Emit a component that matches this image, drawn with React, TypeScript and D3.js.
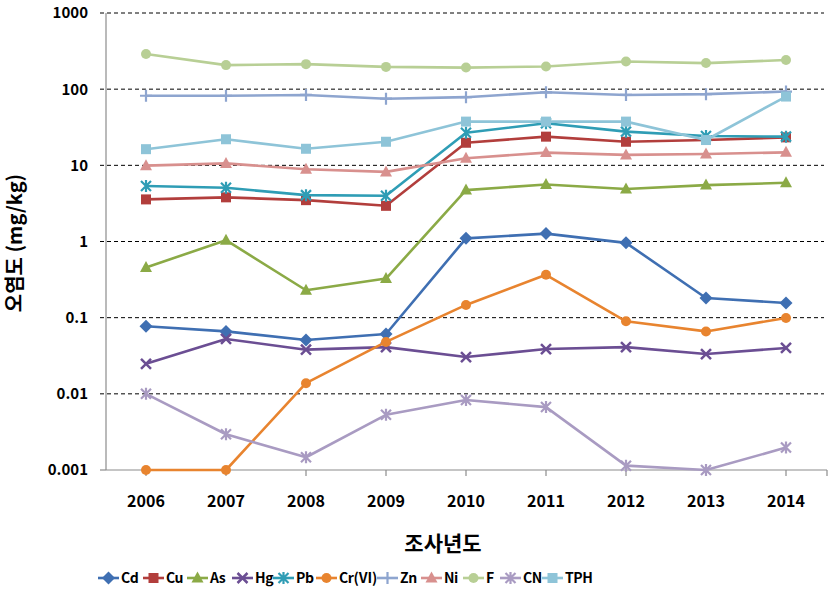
import React from "react";
import * as d3 from "d3";

const years = ["2006", "2007", "2008", "2009", "2010", "2011", "2012", "2013", "2014"];
const yTicks = [0.001, 0.01, 0.1, 1, 10, 100, 1000];
const yTickLabels = ["0.001", "0.01", "0.1", "1", "10", "100", "1000"];

const seriesNames = ["Cd", "Cu", "As", "Hg", "Pb", "Cr(Ⅵ)", "Zn", "Ni", "F", "CN", "TPH"];
const cd = [0.077, 0.066, 0.051, 0.061, 1.1, 1.27, 0.96, 0.181, 0.156];
const cu = [3.57, 3.8, 3.49, 2.94, 19.8, 23.8, 20.4, 21.5, 23.3];
const as = [0.455, 1.04, 0.229, 0.326, 4.73, 5.6, 4.88, 5.5, 5.9];
const hg = [0.0248, 0.0525, 0.038, 0.041, 0.0304, 0.0387, 0.041, 0.0333, 0.04];
const pb = [5.35, 5.07, 4.06, 3.98, 26.8, 35.7, 27.7, 24.3, 23.8];
const cr = [0.001, 0.001, 0.0138, 0.048, 0.147, 0.365, 0.0897, 0.066, 0.099];
const zn = [82, 82, 84, 75, 78.5, 91, 84, 86, 93];
const ni = [9.9, 10.6, 8.9, 8.2, 12.4, 14.7, 13.7, 14.1, 14.8];
const f = [290, 207, 213, 196, 192, 198, 231, 220, 241];
const cn = [0.01, 0.00295, 0.00147, 0.0053, 0.0083, 0.0067, 0.00114, 0.001, 0.00197];
const tph = [16.3, 22, 16.5, 20.4, 37.5, 37.5, 37.5, 21.5, 80];

const seriesValues = [cd, cu, as, hg, pb, cr, zn, ni, f, cn, tph];
const colors = ["#3F6FB2", "#B23E3C", "#8BAA46", "#6B4E93", "#2F9DB5", "#E8842F", "#8EA5CF", "#D8908E", "#B8CF95", "#A99BC2", "#8EC4D8"];
const markers = ["diamond", "square", "triangle", "x", "star", "circle", "plus", "triangle", "circle", "star", "square"];

const FONT = "'Noto Sans CJK KR', 'Noto Sans', sans-serif";

function Marker({ type, x, y, color }: { type: string; x: number; y: number; color: string }) {
  switch (type) {
    case "diamond":
      return <path d={`M${x},${y - 6.5}L${x + 6.5},${y}L${x},${y + 6.5}L${x - 6.5},${y}Z`} fill={color} />;
    case "square":
      return <rect x={x - 5} y={y - 5} width={10} height={10} fill={color} />;
    case "triangle":
      return <path d={`M${x},${y - 6.5}L${x + 6},${y + 4.5}L${x - 6},${y + 4.5}Z`} fill={color} />;
    case "circle":
      return <circle cx={x} cy={y} r={5} fill={color} />;
    case "x":
      return (
        <path d={`M${x - 5},${y - 5}L${x + 5},${y + 5}M${x - 5},${y + 5}L${x + 5},${y - 5}`} stroke={color} strokeWidth={2.5} fill="none" />
      );
    case "star":
      return (
        <path
          d={`M${x - 5},${y - 5}L${x + 5},${y + 5}M${x - 5},${y + 5}L${x + 5},${y - 5}M${x},${y - 6}L${x},${y + 6}`}
          stroke={color}
          strokeWidth={2.2}
          fill="none"
        />
      );
    case "plus":
      return (
        <path d={`M${x - 6},${y}L${x + 6},${y}M${x},${y - 6}L${x},${y + 6}`} stroke={color} strokeWidth={2.2} fill="none" />
      );
    default:
      return null;
  }
}

export default function App() {
  const width = 834;
  const height = 594;
  const left = 106;
  const right = 826;
  const top = 13;
  const bottom = 470;

  const x = d3.scaleBand<string>().domain(years).range([left, right]);
  const cx = (yr: string) => (x(yr) as number) + x.bandwidth() / 2;
  const y = d3.scaleLog().domain([0.001, 1000]).range([bottom, top]);

  const line = d3
    .line<number>()
    .x((_, i) => cx(years[i]))
    .y((v) => y(v));

  const legendX = [98, 143, 187, 232, 273, 316, 377, 421, 463, 500, 542];

  return (
    <svg width={width} height={height} style={{ position: "absolute", left: 0, top: 0, background: "#fff" }}>
      <rect x={0} y={0} width={width} height={height} fill="#fff" />
      {/* gridlines */}
      {yTicks.slice(1).map((t) => (
        <line key={t} x1={left - 6} x2={right - 2} y1={y(t)} y2={y(t)} stroke="#000" strokeWidth={1} strokeDasharray="4,3" />
      ))}
      {/* axes */}
      <line x1={left} x2={left} y1={top} y2={bottom} stroke="#8c8c8c" strokeWidth={1.2} />
      <line x1={left - 6} x2={left} y1={bottom} y2={bottom} stroke="#8c8c8c" strokeWidth={1.2} />
      <line x1={left} x2={right + 1} y1={bottom} y2={bottom} stroke="#8c8c8c" strokeWidth={1.2} />
      {years.map((yr) => (
        <line key={yr} x1={cx(yr)} x2={cx(yr)} y1={bottom} y2={bottom + 6} stroke="#8c8c8c" strokeWidth={1.2} />
      ))}
      <line x1={right + 1} x2={right + 1} y1={bottom} y2={bottom + 6} stroke="#8c8c8c" strokeWidth={1.2} />
      {/* y tick labels */}
      {yTicks.map((t, i) => (
        <text key={t} x={88} y={y(t)} dy="0.36em" textAnchor="end" fontFamily={FONT} fontWeight="bold" fontSize={15} fill="#000">
          {yTickLabels[i]}
        </text>
      ))}
      {/* x tick labels */}
      {years.map((yr) => (
        <text key={yr} x={cx(yr)} y={507} textAnchor="middle" fontFamily={FONT} fontWeight="bold" fontSize={16} fill="#000">
          {yr}
        </text>
      ))}
      {/* axis titles */}
      <text x={443} y={551} textAnchor="middle" fontFamily={FONT} fontWeight="bold" fontSize={21} fill="#000">
        조사년도
      </text>
      <text
        transform={`translate(22,243) rotate(-90)`}
        textAnchor="middle"
        fontFamily={FONT}
        fontWeight="bold"
        fontSize={20}
        fill="#000"
      >
        오염도 (mg/kg)
      </text>
      {/* series */}
      {seriesValues.map((vals, si) => (
        <g key={seriesNames[si]}>
          <path d={line(vals) as string} fill="none" stroke={colors[si]} strokeWidth={2.6} strokeLinejoin="round" />
          {vals.map((v, i) => (
            <Marker key={i} type={markers[si]} x={cx(years[i])} y={y(v)} color={colors[si]} />
          ))}
        </g>
      ))}
      {/* legend */}
      {seriesNames.map((name, si) => (
        <g key={name}>
          <line x1={legendX[si]} x2={legendX[si] + 21} y1={578} y2={578} stroke={colors[si]} strokeWidth={2.6} />
          <Marker type={markers[si]} x={legendX[si] + 10.5} y={578} color={colors[si]} />
          <text
            x={legendX[si] + 23}
            y={578}
            dy="0.36em"
            fontFamily={FONT}
            fontWeight="bold"
            fontSize={14}
            letterSpacing={-0.4}
            fill="#000"
          >
            {name}
          </text>
        </g>
      ))}
    </svg>
  );
}
